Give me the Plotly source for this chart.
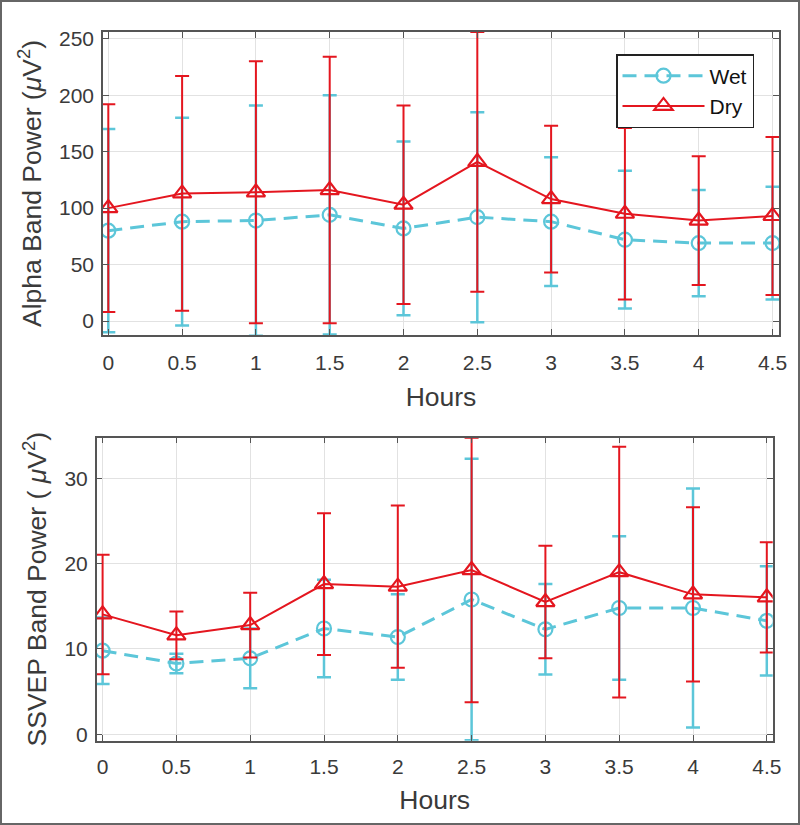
import plotly.graph_objects as go

hours = [0, 0.5, 1, 1.5, 2, 2.5, 3, 3.5, 4, 4.5]
hour_ticks = ["0", "0.5", "1", "1.5", "2", "2.5", "3", "3.5", "4", "4.5"]

alpha_wet = [80, 88, 89, 94, 82, 92, 88, 72, 69, 69]
alpha_wet_err = [90, 92, 102, 106, 77, 93, 57, 61, 47, 50]
alpha_dry = [100, 113, 114, 116, 103, 141, 108, 95, 89, 93]
alpha_dry_err = [92, 104, 116, 118, 88, 115, 65, 76, 57, 70]

ssvep_wet = [9.8, 8.3, 8.9, 12.4, 11.4, 15.8, 12.3, 14.8, 14.8, 13.3]
ssvep_wet_err = [3.9, 1.15, 3.5, 5.7, 5.0, 16.5, 5.3, 8.4, 14.0, 6.4]
ssvep_dry = [14.05, 11.6, 12.8, 17.6, 17.3, 19.25, 15.5, 19.0, 16.4, 16.05]
ssvep_dry_err = [7.0, 2.8, 3.8, 8.3, 9.5, 15.5, 6.6, 14.7, 10.2, 6.45]

CYAN = "#5CC6D9"
RED = "#E4161F"
FONT = "Liberation Sans, Arial, sans-serif"
TXT = "#3a3a3a"

W, H = 800, 825
ML, MR, MT, MB = 96, 21, 32, 84
PW, PH = W - ML - MR, H - MT - MB

fig = go.Figure()

def add_pair(xa, ya, wet, wet_err, dry, dry_err, show):
    fig.add_trace(go.Scatter(
        x=hours, y=wet, name="Wet", xaxis=xa, yaxis=ya, showlegend=show,
        mode="lines+markers",
        line=dict(color=CYAN, width=3, dash="14px,8px"),
        marker=dict(symbol="circle-open", size=14, color=CYAN, line=dict(width=2.2, color=CYAN)),
        error_y=dict(type="data", array=wet_err, symmetric=True, color=CYAN, thickness=2.5, width=7),
    ))
    fig.add_trace(go.Scatter(
        x=hours, y=dry, name="Dry", xaxis=xa, yaxis=ya, showlegend=show,
        mode="lines+markers",
        line=dict(color=RED, width=2),
        marker=dict(symbol="triangle-up-open", size=16, color=RED, line=dict(width=2.2, color=RED)),
        error_y=dict(type="data", array=dry_err, symmetric=True, color=RED, thickness=2, width=7),
    ))

add_pair("x", "y", alpha_wet, alpha_wet_err, alpha_dry, alpha_dry_err, True)
add_pair("x2", "y2", ssvep_wet, ssvep_wet_err, ssvep_dry, ssvep_dry_err, False)

def px_x(a, b):
    return [(a - ML) / PW, (b - ML) / PW]

def px_y(top, bottom):
    return [(H - MB - bottom) / PH, (H - MB - top) / PH]

axis_common = dict(
    showline=True, linecolor="#555555", linewidth=1.5, mirror="allticks",
    ticks="inside", ticklen=6, tickcolor="#555555", tickwidth=1.2,
    showgrid=True, gridcolor="#e2e2e2", gridwidth=1.2, zeroline=False,
    tickfont=dict(family=FONT, size=21, color=TXT),
)
title_font = dict(family=FONT, size=26.5, color=TXT)

fig.update_layout(
    width=W, height=H,
    margin=dict(l=ML, r=MR, t=MT, b=MB),
    paper_bgcolor="white", plot_bgcolor="white",
    xaxis=dict(domain=px_x(103, 779), range=[-0.036, 4.544], anchor="y",
               tickvals=hours, ticktext=hour_ticks, ticklabelstandoff=8,
               title=dict(text="Hours", font=title_font, standoff=14),
               **axis_common),
    yaxis=dict(domain=px_y(32, 335), range=[-12.4, 256], anchor="x",
               tickvals=[0, 50, 100, 150, 200, 250], ticklabelstandoff=3,
               title=dict(text="Alpha Band Power (<i>μ</i>V<sup>2</sup>)",
                          font=title_font, standoff=10),
               **axis_common),
    xaxis2=dict(domain=px_x(96.7, 772.7), range=[-0.04, 4.54], anchor="y2",
                tickvals=hours, ticktext=hour_ticks, ticklabelstandoff=6,
                title=dict(text="Hours", font=title_font, standoff=14),
                **axis_common),
    yaxis2=dict(domain=px_y(437.7, 740.7), range=[-0.75, 34.76], anchor="x2",
                tickvals=[0, 10, 20, 30], ticklabelstandoff=3,
                title=dict(text="SSVEP Band Power ( <i>μ</i>V<sup>2</sup>)",
                           font=title_font, standoff=10),
                **axis_common),
    legend=dict(
        x=(616 - ML) / PW, y=(H - MB - 54) / PH, xanchor="left", yanchor="top",
        bgcolor="white", bordercolor="#222222", borderwidth=1.5,
        font=dict(family=FONT, size=21, color="#111111"),
        itemwidth=82, tracegroupgap=0,
    ),
    showlegend=True,
)

# outer frame around the figure
fig.add_shape(type="rect", xref="paper", yref="paper",
              x0=(1 - ML) / PW, x1=(W - 1 - ML) / PW,
              y0=(1 - MB) / PH, y1=(H - 1 - MB) / PH,
              line=dict(color="#666666", width=2), fillcolor="rgba(0,0,0,0)", layer="above")

fig.write_html("out.html", config={"displayModeBar": False},
               post_script="document.body.style.margin='0';document.body.style.overflow='hidden';")
